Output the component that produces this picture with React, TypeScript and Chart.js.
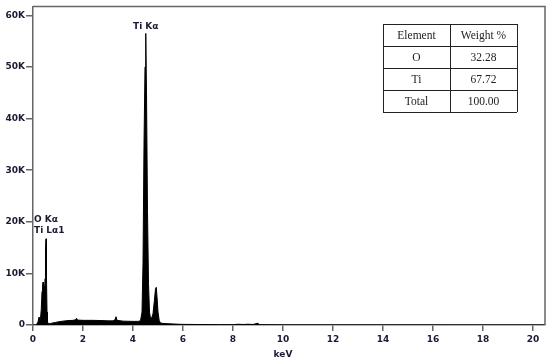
import React, { useEffect, useRef } from "react";
import { Chart, registerables } from "chart.js";

Chart.register(...registerables);

// Spectrum (energy in keV, counts)
const energies = [
  0.0, 0.1, 0.16, 0.2, 0.24, 0.27, 0.3, 0.33, 0.36, 0.38, 0.4, 0.42, 0.44, 0.46, 0.48, 0.5, 0.52, 0.54, 0.56, 0.58,
  0.62, 0.7, 0.8, 0.9, 1.0, 1.2, 1.4, 1.6, 1.7, 1.74, 1.78, 2.0, 2.4, 2.8, 3.0, 3.2, 3.28, 3.32, 3.36, 3.6,
  4.0, 4.2, 4.3, 4.36, 4.4, 4.44, 4.48, 4.51, 4.54, 4.58, 4.62, 4.66, 4.7, 4.75, 4.8, 4.85, 4.9, 4.93, 4.96, 5.0,
  5.05, 5.1, 5.2, 5.4, 5.6, 5.8, 6.0, 6.5, 7.0, 7.5, 8.0, 8.2, 8.4, 8.6, 8.8, 9.0, 9.05, 9.5, 10.0, 12.0, 20.48,
];
const counts = [
  0, 0, 200, 600, 1500, 800, 1200, 3000, 6500, 7500, 8300, 7000, 7600, 6000, 9000, 14500, 16700, 9000, 2500, 600,
  200, 300, 400, 500, 600, 750, 850, 900, 1000, 1300, 950, 900, 900, 850, 800, 800, 1000, 1600, 900, 750,
  700, 700, 800, 2500, 12000, 35000, 50000, 56500, 45000, 22000, 8000, 2500, 1300, 1400, 2200, 4500, 7000, 7300, 5500, 2500,
  800, 400, 300, 250, 200, 150, 120, 100, 80, 60, 60, 150, 100, 150, 100, 350, 60, 30, 20, 10, 0,
];

const xTickValues = [0, 2, 4, 6, 8, 10, 12, 14, 16, 18, 20];
const yTickValues = [0, 10000, 20000, 30000, 40000, 50000, 60000];
const xAxisTitle = "keV";

const peakNames = ["Ti Kα", "O Kα", "Ti Lα1"];
const peakEnergies = [4.51, 0.04, 0.04];
const peakLabelLevels = [57800, 20500, 18200];

const tableHeader = ["Element", "Weight %"];
const tableElements = ["O", "Ti", "Total"];
const tableWeights = ["32.28", "67.72", "100.00"];

const TEXT = "#1a1a33";
const AXIS = "#666";
const BOLD = "bold 9px 'DejaVu Sans', Verdana, sans-serif";

const overlayPlugin = {
  id: "overlay",
  afterDraw(chart: any) {
    const { ctx, chartArea, scales } = chart;
    const x = scales.x;
    const y = scales.y;
    ctx.save();
    // frame top/right
    ctx.strokeStyle = AXIS;
    ctx.lineWidth = 1.5;
    ctx.beginPath();
    ctx.moveTo(chartArea.left, chartArea.top);
    ctx.lineTo(chartArea.right, chartArea.top);
    ctx.lineTo(chartArea.right, chartArea.bottom);
    ctx.stroke();

    // peak labels
    ctx.fillStyle = TEXT;
    ctx.font = BOLD;
    ctx.textBaseline = "middle";
    peakNames.forEach((name, i) => {
      const px = x.getPixelForValue(peakEnergies[i]);
      const py = y.getPixelForValue(peakLabelLevels[i]);
      ctx.textAlign = i === 0 ? "center" : "left";
      ctx.fillText(name, px, py);
    });

    // axis title
    ctx.textAlign = "center";
    ctx.fillText(xAxisTitle, x.getPixelForValue(10), 355);

    // table
    const left = 383, right = 517, mid = 450, top = 24, rowH = 22;
    const rows = [tableHeader, ...tableElements.map((e, i) => [e, tableWeights[i]])];
    const bottom = top + rowH * rows.length;
    ctx.fillStyle = "#fff";
    ctx.fillRect(left, top, right - left, bottom - top);
    ctx.strokeStyle = "#222";
    ctx.lineWidth = 1;
    ctx.beginPath();
    for (let r = 0; r <= rows.length; r++) {
      const yy = Math.round(top + r * rowH) + 0.5;
      ctx.moveTo(left, yy);
      ctx.lineTo(right, yy);
    }
    [left, mid, right].forEach((xx) => {
      ctx.moveTo(xx + 0.5, top);
      ctx.lineTo(xx + 0.5, bottom);
    });
    ctx.stroke();
    ctx.fillStyle = "#222";
    ctx.font = "11.5px 'Liberation Serif', 'DejaVu Serif', serif";
    ctx.textAlign = "center";
    rows.forEach((row, r) => {
      const cy = top + r * rowH + rowH / 2 + 1;
      ctx.fillText(row[0], (left + mid) / 2, cy);
      ctx.fillText(row[1], (mid + right) / 2, cy);
    });
    ctx.restore();
  },
};

export default function App() {
  const ref = useRef<HTMLCanvasElement | null>(null);
  useEffect(() => {
    if (!ref.current) return;
    const data = energies.map((e, i) => ({ x: e, y: counts[i] }));
    const chart = new Chart(ref.current, {
      type: "line",
      data: {
        datasets: [
          {
            data,
            borderColor: "#000",
            backgroundColor: "#000",
            borderWidth: 1,
            pointRadius: 0,
            tension: 0,
            fill: "origin",
          },
        ],
      },
      options: {
        responsive: false,
        animation: false,
        events: [],
        layout: { padding: { top: 4, right: 5, left: 0, bottom: 0 } },
        plugins: { legend: { display: false }, tooltip: { enabled: false } },
        scales: {
          x: {
            type: "linear",
            min: 0,
            max: 20.48,
            afterFit: (s: any) => {
              s.height = 38;
            },
            afterBuildTicks: (s: any) => {
              s.ticks = xTickValues.map((v) => ({ value: v }));
            },
            grid: { drawOnChartArea: false, drawTicks: true, tickLength: 6, color: AXIS, lineWidth: 1.5 },
            border: { display: true, color: AXIS, width: 1.5 },
            ticks: {
              color: TEXT,
              font: { family: "'DejaVu Sans', Verdana, sans-serif", size: 9, weight: "bold" },
              padding: 3,
              maxRotation: 0,
              callback: (v: any) => String(v),
            },
          },
          y: {
            type: "linear",
            min: 0,
            max: 61730,
            afterFit: (s: any) => {
              s.width = 33;
            },
            afterBuildTicks: (s: any) => {
              s.ticks = yTickValues.map((v) => ({ value: v }));
            },
            grid: { drawOnChartArea: false, drawTicks: true, tickLength: 7, color: AXIS, lineWidth: 1.5 },
            border: { display: true, color: AXIS, width: 1.5 },
            ticks: {
              color: TEXT,
              font: { family: "'DejaVu Sans', Verdana, sans-serif", size: 9, weight: "bold" },
              padding: 1,
              callback: (v: any) => (v === 0 ? "0" : `${v / 1000}K`),
            },
          },
        },
      },
      plugins: [overlayPlugin],
    } as any);
    return () => chart.destroy();
  }, []);
  return (
    <div style={{ position: "absolute", left: 0, top: 0, width: 550, height: 363, background: "#fff" }}>
      <canvas ref={ref} width={550} height={363} />
    </div>
  );
}
